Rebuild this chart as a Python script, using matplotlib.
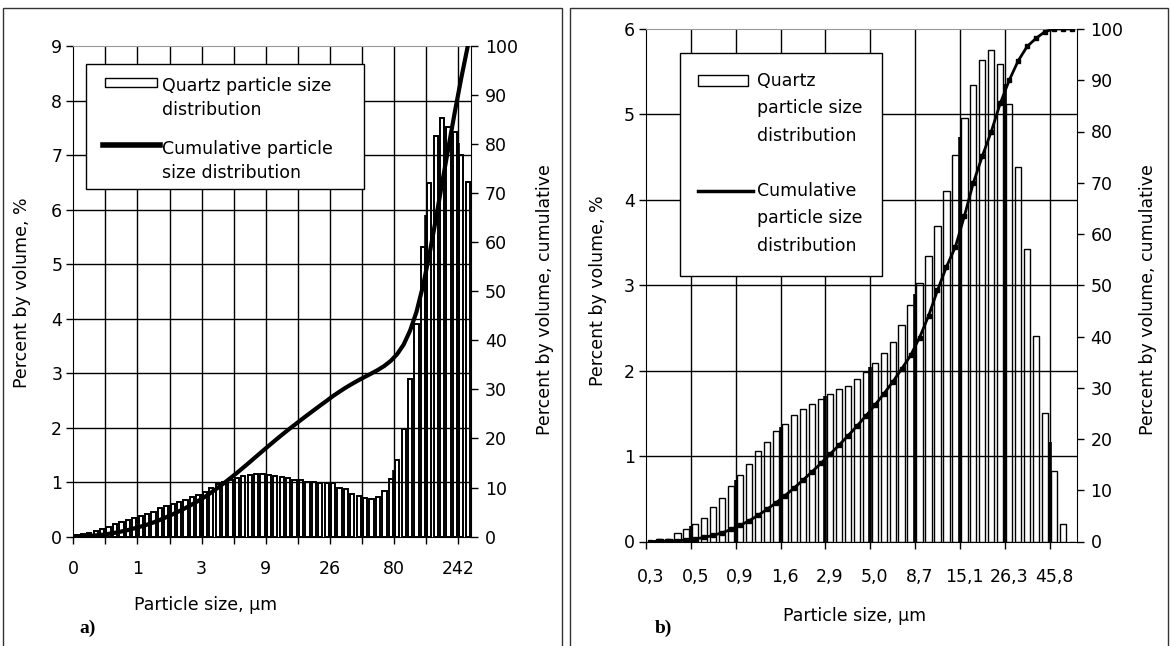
import matplotlib
matplotlib.use("Agg")
import matplotlib.pyplot as plt
from matplotlib.patches import Rectangle
from matplotlib.lines import Line2D
import numpy as np

# ---- data ----
# a) quartz, 62 size classes, % by volume per class
left_pct = [0.03, 0.05, 0.07, 0.10, 0.14, 0.18, 0.23, 0.26, 0.30, 0.34,
            0.38, 0.41, 0.46, 0.52, 0.57, 0.60, 0.64, 0.67, 0.73, 0.76,
            0.82, 0.90, 0.96, 1.01, 1.04, 1.08, 1.11, 1.13, 1.15, 1.15,
            1.13, 1.12, 1.10, 1.07, 1.04, 1.03, 1.01, 1.00, 0.99, 0.98,
            0.98, 0.90, 0.87, 0.79, 0.75, 0.71, 0.69, 0.72, 0.84, 1.05,
            1.41, 1.97, 2.89, 3.90, 5.32, 6.48, 7.34, 7.67, 7.52, 7.43,
            7.00, 6.51]
left_cum = [0.03, 0.08, 0.15, 0.25, 0.38, 0.56, 0.78, 1.04, 1.33, 1.67,
            2.04, 2.44, 2.89, 3.40, 3.96, 4.55, 5.17, 5.83, 6.55, 7.29,
            8.09, 8.98, 9.92, 10.91, 11.93, 12.98, 14.07, 15.18, 16.31, 17.43,
            18.54, 19.64, 20.72, 21.77, 22.78, 23.79, 24.78, 25.76, 26.73, 27.69,
            28.66, 29.54, 30.39, 31.16, 31.90, 32.59, 33.27, 33.98, 34.80, 35.83,
            37.21, 39.14, 41.97, 45.80, 51.01, 57.36, 64.55, 72.07, 79.44, 86.72,
            93.58, 100.0]
left_ticklabels = ['0', '1', '3', '9', '26', '80', '242']

# b) 48 size classes
right_pct = [0.0, 0.03, 0.03, 0.10, 0.15, 0.21, 0.28, 0.40, 0.51, 0.65,
             0.78, 0.91, 1.06, 1.17, 1.29, 1.38, 1.48, 1.55, 1.61, 1.67,
             1.73, 1.78, 1.82, 1.90, 1.99, 2.09, 2.21, 2.34, 2.54, 2.77,
             3.03, 3.34, 3.69, 4.10, 4.52, 4.96, 5.35, 5.64, 5.75, 5.59,
             5.12, 4.38, 3.43, 2.41, 1.51, 0.82, 0.20, 0.0]
right_cum = [0.0, 0.03, 0.06, 0.16, 0.31, 0.52, 0.80, 1.20, 1.71, 2.36,
             3.14, 4.05, 5.11, 6.28, 7.57, 8.95, 10.43, 11.98, 13.59, 15.26,
             16.99, 18.77, 20.59, 22.49, 24.48, 26.57, 28.78, 31.12, 33.66, 36.3,
             39.8, 44.0, 49.0, 53.6, 57.5, 63.5, 70.0, 75.2, 80.0, 85.5,
             90.0, 93.8, 96.6, 98.2, 99.5, 100.0, 100.0, 100.0]
right_ticklabels = ['0,3', '0,5', '0,9', '1,6', '2,9', '5,0', '8,7', '15,1', '26,3', '45,8']

plt.rcParams['font.family'] = ['DejaVu Sans']
FS = 12.5

W, H = 1171, 646
fig = plt.figure(figsize=(W / 100, H / 100), dpi=100)


def add_ax(x0, y0, x1, y1):
    return fig.add_axes([x0 / W, 1 - y1 / H, (x1 - x0) / W, (y1 - y0) / H])


def ftext(x, y, s, **kw):
    kw.setdefault('fontsize', FS)
    return fig.text(x / W, 1 - y / H, s, **kw)


def frect(x0, y0, x1, y1, **kw):
    r = Rectangle((x0 / W, 1 - y1 / H), (x1 - x0) / W, (y1 - y0) / H,
                  transform=fig.transFigure, **kw)
    fig.add_artist(r)
    return r


def panel(box, pct, cum, ymax, bar_w, bar_lw, lw_line, marker):
    ax = add_ax(*box)
    n = len(pct)
    x = np.arange(n) + 0.5
    ax.bar(x, pct, width=bar_w, color='white', edgecolor='black',
           linewidth=bar_lw, zorder=1)
    for yv in range(1, ymax):
        ax.axhline(yv, color='black', lw=1, zorder=2)
    bounds = list(range(5, n, 5))
    for b in bounds:
        ax.axvline(b, color='black', lw=1, zorder=2)
    # gridline merges with the neighbouring bar edges into a dark column
    ax.vlines(bounds, 0, [(pct[b - 1] + pct[b]) / 2 for b in bounds],
              color='black', lw=2.6, zorder=2)
    ax.set_xlim(0, n)
    ax.set_ylim(0, ymax)
    ax.set_yticks(range(0, ymax + 1))
    ax.tick_params(axis='y', direction='out', length=5, width=1,
                   labelsize=FS, pad=3)
    ax.tick_params(axis='x', which='major', direction='out', length=5, width=1)
    for s in ['left', 'bottom']:
        ax.spines[s].set_color('black')
    ax.spines['top'].set_color('#999999')
    ax.spines['right'].set_visible(False)

    ax2 = ax.twinx()
    ax2.plot(x, cum, color='black', lw=lw_line, marker=marker, ms=2.5,
             solid_joinstyle='miter', zorder=3)
    ax2.set_ylim(0, 100)
    ax2.set_yticks(range(0, 101, 10))
    ax2.tick_params(axis='y', direction='out', length=5, width=1,
                    labelsize=FS, pad=5)
    for s in ['left', 'bottom', 'top']:
        ax2.spines[s].set_visible(False)
    ax2.spines['right'].set_color('black')
    return ax, ax2, n


# panel frames
frect(3, 8, 562, 700, facecolor='none', edgecolor='#333333', lw=1)
frect(570, 8, 1168, 700, facecolor='none', edgecolor='#333333', lw=1)

# ---- panel a ----
axa, axa2, na = panel((73.3, 46, 471, 536.6), left_pct, left_cum, 9,
                      0.66, 1.4, 3, None)
axa.set_xticks(range(0, na, 5))
axa.set_xticklabels([left_ticklabels[i // 2] if i % 2 == 0 else ''
                     for i in range(len(range(0, na, 5)))])
axa.tick_params(axis='x', labelsize=FS, pad=12)

ftext(206, 605, 'Particle size, µm', ha='center', va='center')
ftext(22, 293, 'Percent by volume, %', rotation=90, ha='center', va='center')
ftext(545, 300, 'Percent by volume, cumulative', rotation=90, ha='center', va='center')

# legend a
frect(86, 64, 364, 189, facecolor='white', edgecolor='black', lw=1, zorder=5)
frect(105, 78, 157, 87, facecolor='white', edgecolor='black', lw=1, zorder=6)
fig.add_artist(Line2D([103 / W, 160 / W], [1 - 145 / H, 1 - 145 / H],
                      color='black', lw=4, zorder=6))
ftext(162, 86, 'Quartz particle size', va='center', zorder=6)
ftext(162, 110, 'distribution', va='center', zorder=6)
ftext(162, 149, 'Cumulative particle', va='center', zorder=6)
ftext(162, 173, 'size distribution', va='center', zorder=6)

# ---- panel b ----
axb, axb2, nb = panel((646, 29, 1076.5, 541.5), right_pct, right_cum, 6,
                      0.7, 1.0, 2, 's')
axb.set_xticks(range(0, nb, 5))
axb.set_xticklabels([])
axb.set_xticks(np.arange(0, nb, 5) + 0.5, minor=True)
axb.set_xticklabels(right_ticklabels, minor=True)
axb.tick_params(axis='x', which='minor', length=0, labelsize=FS, pad=19)

ftext(855, 616, 'Particle size, µm', ha='center', va='center')
ftext(598, 291, 'Percent by volume, %', rotation=90, ha='center', va='center')
ftext(1148, 300, 'Percent by volume, cumulative', rotation=90, ha='center', va='center')

# legend b
frect(680, 53, 882, 276, facecolor='white', edgecolor='black', lw=1, zorder=5)
frect(698, 75, 748, 86, facecolor='white', edgecolor='black', lw=1, zorder=6)
fig.add_artist(Line2D([698 / W, 753 / W], [1 - 191 / H, 1 - 191 / H],
                      color='black', lw=2.5, zorder=6))
for yy, s in [(81, 'Quartz'), (108, 'particle size'), (136, 'distribution'),
              (191, 'Cumulative'), (218, 'particle size'), (246, 'distribution')]:
    ftext(757, yy, s, va='center', zorder=6)

ftext(88, 628, 'a)', ha='center', va='center', fontsize=14, fontweight='bold',
      family='Liberation Serif')
ftext(663, 628, 'b)', ha='center', va='center', fontsize=14, fontweight='bold',
      family='Liberation Serif')

fig.savefig('out.png', dpi=100, facecolor='white')
